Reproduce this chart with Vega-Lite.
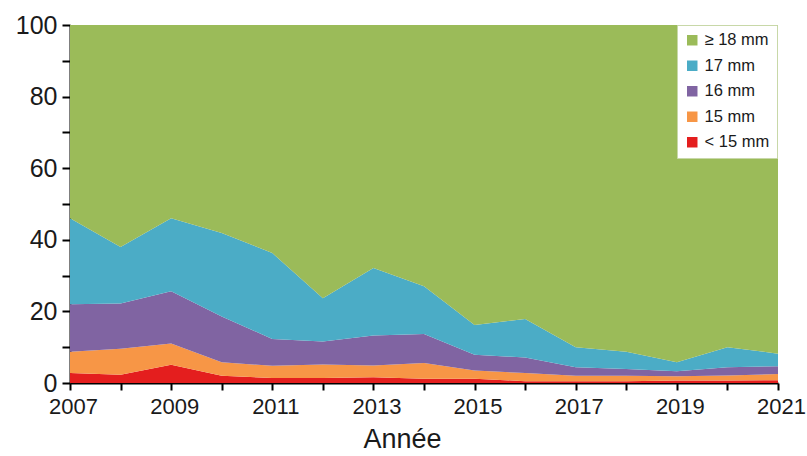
{
  "$schema": "https://vega.github.io/schema/vega-lite/v6.json",
  "autosize": "none",
  "width": 708,
  "height": 358,
  "padding": {"left": 70, "top": 25, "right": 29, "bottom": 73},
  "background": "white",
  "config": {"view": {"stroke": null}, "font": "Liberation Sans"},
  "data": {"values": [
    {"year": 2007, "size": "< 15 mm", "rank": 1, "pct": 2.8},
    {"year": 2007, "size": "15 mm", "rank": 2, "pct": 5.9},
    {"year": 2007, "size": "16 mm", "rank": 3, "pct": 13.3},
    {"year": 2007, "size": "17 mm", "rank": 4, "pct": 24.0},
    {"year": 2007, "size": "≥ 18 mm", "rank": 5, "pct": 54.0},
    {"year": 2008, "size": "< 15 mm", "rank": 1, "pct": 2.3},
    {"year": 2008, "size": "15 mm", "rank": 2, "pct": 7.3},
    {"year": 2008, "size": "16 mm", "rank": 3, "pct": 12.6},
    {"year": 2008, "size": "17 mm", "rank": 4, "pct": 15.8},
    {"year": 2008, "size": "≥ 18 mm", "rank": 5, "pct": 62.0},
    {"year": 2009, "size": "< 15 mm", "rank": 1, "pct": 5.1},
    {"year": 2009, "size": "15 mm", "rank": 2, "pct": 5.9},
    {"year": 2009, "size": "16 mm", "rank": 3, "pct": 14.6},
    {"year": 2009, "size": "17 mm", "rank": 4, "pct": 20.4},
    {"year": 2009, "size": "≥ 18 mm", "rank": 5, "pct": 54.0},
    {"year": 2010, "size": "< 15 mm", "rank": 1, "pct": 2.0},
    {"year": 2010, "size": "15 mm", "rank": 2, "pct": 3.8},
    {"year": 2010, "size": "16 mm", "rank": 3, "pct": 12.8},
    {"year": 2010, "size": "17 mm", "rank": 4, "pct": 23.3},
    {"year": 2010, "size": "≥ 18 mm", "rank": 5, "pct": 58.1},
    {"year": 2011, "size": "< 15 mm", "rank": 1, "pct": 1.4},
    {"year": 2011, "size": "15 mm", "rank": 2, "pct": 3.4},
    {"year": 2011, "size": "16 mm", "rank": 3, "pct": 7.5},
    {"year": 2011, "size": "17 mm", "rank": 4, "pct": 24.0},
    {"year": 2011, "size": "≥ 18 mm", "rank": 5, "pct": 63.7},
    {"year": 2012, "size": "< 15 mm", "rank": 1, "pct": 1.4},
    {"year": 2012, "size": "15 mm", "rank": 2, "pct": 3.8},
    {"year": 2012, "size": "16 mm", "rank": 3, "pct": 6.4},
    {"year": 2012, "size": "17 mm", "rank": 4, "pct": 12.1},
    {"year": 2012, "size": "≥ 18 mm", "rank": 5, "pct": 76.3},
    {"year": 2013, "size": "< 15 mm", "rank": 1, "pct": 1.6},
    {"year": 2013, "size": "15 mm", "rank": 2, "pct": 3.3},
    {"year": 2013, "size": "16 mm", "rank": 3, "pct": 8.4},
    {"year": 2013, "size": "17 mm", "rank": 4, "pct": 18.8},
    {"year": 2013, "size": "≥ 18 mm", "rank": 5, "pct": 67.9},
    {"year": 2014, "size": "< 15 mm", "rank": 1, "pct": 1.2},
    {"year": 2014, "size": "15 mm", "rank": 2, "pct": 4.4},
    {"year": 2014, "size": "16 mm", "rank": 3, "pct": 8.1},
    {"year": 2014, "size": "17 mm", "rank": 4, "pct": 13.3},
    {"year": 2014, "size": "≥ 18 mm", "rank": 5, "pct": 73.0},
    {"year": 2015, "size": "< 15 mm", "rank": 1, "pct": 1.2},
    {"year": 2015, "size": "15 mm", "rank": 2, "pct": 2.3},
    {"year": 2015, "size": "16 mm", "rank": 3, "pct": 4.4},
    {"year": 2015, "size": "17 mm", "rank": 4, "pct": 8.3},
    {"year": 2015, "size": "≥ 18 mm", "rank": 5, "pct": 83.8},
    {"year": 2016, "size": "< 15 mm", "rank": 1, "pct": 0.5},
    {"year": 2016, "size": "15 mm", "rank": 2, "pct": 2.3},
    {"year": 2016, "size": "16 mm", "rank": 3, "pct": 4.3},
    {"year": 2016, "size": "17 mm", "rank": 4, "pct": 10.8},
    {"year": 2016, "size": "≥ 18 mm", "rank": 5, "pct": 82.1},
    {"year": 2017, "size": "< 15 mm", "rank": 1, "pct": 0.5},
    {"year": 2017, "size": "15 mm", "rank": 2, "pct": 1.5},
    {"year": 2017, "size": "16 mm", "rank": 3, "pct": 2.4},
    {"year": 2017, "size": "17 mm", "rank": 4, "pct": 5.6},
    {"year": 2017, "size": "≥ 18 mm", "rank": 5, "pct": 90.0},
    {"year": 2018, "size": "< 15 mm", "rank": 1, "pct": 0.5},
    {"year": 2018, "size": "15 mm", "rank": 2, "pct": 1.5},
    {"year": 2018, "size": "16 mm", "rank": 3, "pct": 1.9},
    {"year": 2018, "size": "17 mm", "rank": 4, "pct": 4.8},
    {"year": 2018, "size": "≥ 18 mm", "rank": 5, "pct": 91.3},
    {"year": 2019, "size": "< 15 mm", "rank": 1, "pct": 0.7},
    {"year": 2019, "size": "15 mm", "rank": 2, "pct": 1.2},
    {"year": 2019, "size": "16 mm", "rank": 3, "pct": 1.4},
    {"year": 2019, "size": "17 mm", "rank": 4, "pct": 2.5},
    {"year": 2019, "size": "≥ 18 mm", "rank": 5, "pct": 94.2},
    {"year": 2020, "size": "< 15 mm", "rank": 1, "pct": 0.7},
    {"year": 2020, "size": "15 mm", "rank": 2, "pct": 1.4},
    {"year": 2020, "size": "16 mm", "rank": 3, "pct": 2.3},
    {"year": 2020, "size": "17 mm", "rank": 4, "pct": 5.6},
    {"year": 2020, "size": "≥ 18 mm", "rank": 5, "pct": 90.0},
    {"year": 2021, "size": "< 15 mm", "rank": 1, "pct": 0.8},
    {"year": 2021, "size": "15 mm", "rank": 2, "pct": 1.7},
    {"year": 2021, "size": "16 mm", "rank": 3, "pct": 2.2},
    {"year": 2021, "size": "17 mm", "rank": 4, "pct": 3.5},
    {"year": 2021, "size": "≥ 18 mm", "rank": 5, "pct": 91.8}
  ]},
  "mark": {"type": "area", "interpolate": "linear"},
  "encoding": {
    "x": {
      "field": "year", "type": "quantitative",
      "scale": {"domain": [2007, 2021], "nice": false, "zero": false},
      "axis": {
        "title": "Année", "titleFontSize": 27, "titleFontWeight": "normal", "titleColor": "#1a1a1a", "titlePadding": 9,
        "titleX": 332, "titleAlign": "center",
        "values": [2007,2008,2009,2010,2011,2012,2013,2014,2015,2016,2017,2018,2019,2020,2021],
        "labelExpr": "datum.value % 2 == 1 ? format(datum.value, 'd') : ''",
        "labelFontSize": 22, "labelColor": "#1a1a1a", "labelPadding": 6, "labelOffset": 3, "labelFlush": false, "labelOverlap": false,
        "domainColor": "black", "domainWidth": 2, "tickColor": "black", "tickWidth": 2, "tickSize": 7, "grid": false
      }
    },
    "y": {
      "field": "pct", "type": "quantitative", "stack": "zero",
      "scale": {"domain": [0, 100], "nice": false},
      "axis": {
        "title": null,
        "values": [0,10,20,30,40,50,60,70,80,90,100],
        "labelExpr": "datum.value % 20 == 0 ? format(datum.value, 'd') : ''",
        "labelFontSize": 25, "labelColor": "#1a1a1a", "labelPadding": 5, "labelOverlap": false,
        "domainColor": "black", "domainWidth": 2, "tickColor": "black", "tickWidth": 2, "tickSize": 8, "grid": false
      }
    },
    "color": {
      "field": "size", "type": "nominal",
      "scale": {
        "domain": ["≥ 18 mm", "17 mm", "16 mm", "15 mm", "< 15 mm"],
        "range": ["#9BBB59", "#4BACC6", "#8064A2", "#F79646", "#E41E1E"]
      },
      "legend": {
        "title": null, "orient": "none", "legendX": 607, "legendY": 0,
        "symbolType": "square", "symbolSize": 110, "symbolStrokeWidth": 0,
        "labelFontSize": 16.5, "labelColor": "#1a1a1a", "labelOffset": 4,
        "rowPadding": 8.5, "padding": 7,
        "fillColor": "white", "strokeColor": "#c8d8a8"
      }
    },
    "order": {"field": "rank", "type": "quantitative", "sort": "ascending"}
  }
}
